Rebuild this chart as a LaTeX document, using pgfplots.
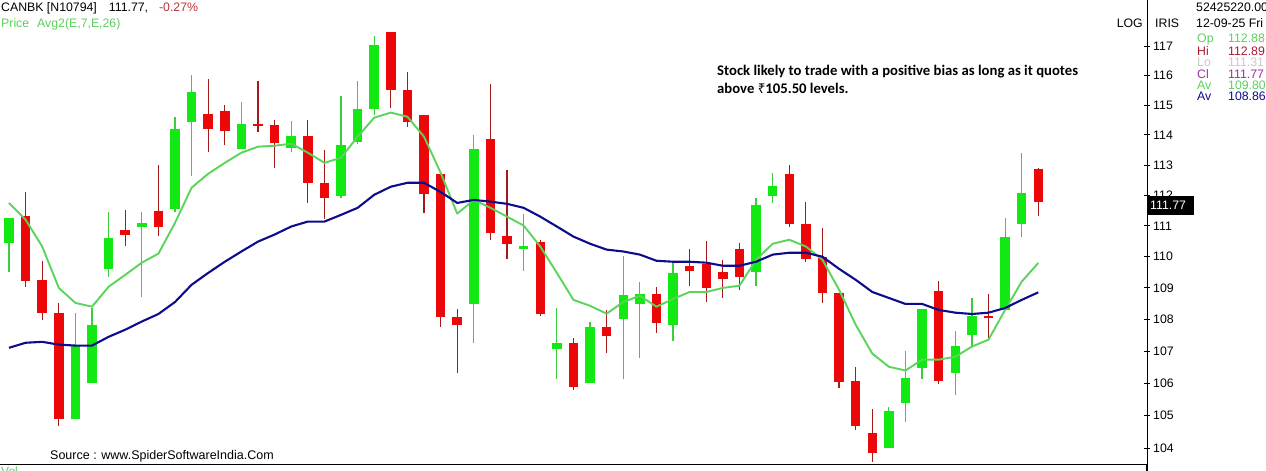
\documentclass[border=0pt]{standalone}
\usepackage{fontspec}
\setmainfont{Liberation Sans}
\newfontfamily\calibb{Carlito}[BoldFont={Carlito Bold}]
\newfontfamily\rupeefont{Noto Sans}
\usepackage{pgfplots}
\pgfplotsset{compat=1.18}
\definecolor{upgreen}{RGB}{18,232,18}
\definecolor{greenwick}{RGB}{60,205,60}
\definecolor{downred}{RGB}{236,8,8}
\definecolor{redwick}{RGB}{165,25,25}
\definecolor{emaseven}{RGB}{90,212,90}
\definecolor{ematwentysix}{RGB}{12,12,140}
\definecolor{pctred}{RGB}{190,50,50}
\definecolor{hired}{RGB}{175,25,50}
\definecolor{logrey}{RGB}{200,200,200}
\definecolor{clpurple}{RGB}{160,45,160}
\definecolor{txtgreen}{RGB}{95,205,95}
\begin{document}
\begin{tikzpicture}[x=1pt,y=1pt]
\useasboundingbox (0,0) rectangle (1266,471);
\begin{axis}[
  at={(0pt,6pt)}, anchor=south west,
  width=1147pt, height=465pt, scale only axis,
  xmin=-0.542, xmax=68.55,
  ymode=log, ymin=103.49, ymax=118.61,
  axis x line*=bottom, axis y line*=right,
  axis line style={line width=1.1pt, black},
  xtick=\empty,
  ytick={104,105,106,107,108,109,110,111,112,113,114,115,116,117},
  yticklabels={104,105,106,107,108,109,110,111,112,113,114,115,116,117},
  tick align=center, major tick length=6pt,
  tick style={black, line width=0.9pt},
  yticklabel style={font=\fontsize{12.3pt}{14pt}\selectfont, anchor=west, inner sep=0pt, xshift=3pt},
  unbounded coords=jump,
]
% green wicks
\addplot[greenwick, line width=1.2pt] coordinates {
(0,109.52)(0,111.27)(0,nan)
(4,104.90)(4,108.21)(4,nan)
(5,106.01)(5,108.36)(5,nan)
(6,109.36)(6,111.46)(6,nan)
(8,108.71)(8,111.46)(8,nan)
(10,111.46)(10,114.61)(10,nan)
(11,112.64)(11,116.03)(11,nan)
(14,113.54)(14,115.11)(14,nan)
(17,113.44)(17,114.48)(17,nan)
(20,111.92)(20,115.32)(20,nan)
(21,113.71)(21,115.83)(21,nan)
(22,114.68)(22,117.37)(22,nan)
(28,107.26)(28,114.01)(28,nan)
(31,109.55)(31,111.40)(31,nan)
(33,106.13)(33,108.36)(33,nan)
(35,106.01)(35,107.93)(35,nan)
(37,106.13)(37,110.03)(37,nan)
(38,106.79)(38,109.20)(38,nan)
(40,107.33)(40,109.81)(40,nan)
(45,109.07)(45,111.92)(45,nan)
(46,111.75)(46,112.74)(46,nan)
(53,104.01)(53,105.26)(53,nan)
(54,104.81)(54,107.01)(54,nan)
(55,106.13)(55,108.33)(55,nan)
(57,105.63)(57,107.64)(57,nan)
(58,107.17)(58,108.68)(58,nan)
(60,108.30)(60,111.27)(60,nan)
(61,110.65)(61,113.41)(61,nan)
};
% red wicks
\addplot[redwick, line width=1.2pt] coordinates {
(1,109.04)(1,112.11)(1,nan)
(2,107.99)(2,109.87)(2,nan)
(3,104.66)(3,108.52)(3,nan)
(7,110.36)(7,111.53)(7,nan)
(9,110.68)(9,113.01)(9,nan)
(12,113.44)(12,115.89)(12,nan)
(13,113.67)(13,115.01)(13,nan)
(15,114.11)(15,115.83)(15,nan)
(16,112.90)(16,114.51)(16,nan)
(18,111.75)(18,114.51)(18,nan)
(19,111.23)(19,113.51)(19,nan)
(23,114.91)(23,117.50)(23,nan)
(24,114.28)(24,116.13)(24,nan)
(25,111.43)(25,114.68)(25,nan)
(26,107.77)(26,112.71)(26,nan)
(27,106.32)(27,108.33)(27,nan)
(29,110.55)(29,115.72)(29,nan)
(30,109.94)(30,112.84)(30,nan)
(32,108.11)(32,110.55)(32,nan)
(34,105.79)(34,107.42)(34,nan)
(36,106.95)(36,108.30)(36,nan)
(39,107.58)(39,109.04)(39,nan)
(41,109.07)(41,110.26)(41,nan)
(42,108.56)(42,110.52)(42,nan)
(43,108.68)(43,109.90)(43,nan)
(44,108.94)(44,110.45)(44,nan)
(47,110.98)(47,113.01)(47,nan)
(48,109.84)(48,111.79)(48,nan)
(49,108.52)(49,110.94)(49,nan)
(50,105.85)(50,108.84)(50,nan)
(51,104.56)(51,106.51)(51,nan)
(52,103.57)(52,105.20)(52,nan)
(56,105.98)(56,109.23)(56,nan)
(59,107.39)(59,108.81)(59,nan)
(62,111.31)(62,112.89)(62,nan)
};
% green bodies (open, close)
\addplot[upgreen, line width=9.5pt] coordinates {
(0,110.45)(0,111.27)(0,nan)
(4,104.90)(4,107.20)(4,nan)
(5,106.01)(5,107.83)(5,nan)
(6,109.61)(6,110.62)(6,nan)
(8,110.98)(8,111.10)(8,nan)
(10,111.56)(10,114.21)(10,nan)
(11,114.44)(11,115.45)(11,nan)
(14,113.54)(14,114.38)(14,nan)
(17,113.57)(17,113.97)(17,nan)
(20,111.98)(20,113.67)(20,nan)
(21,113.77)(21,114.88)(21,nan)
(22,114.88)(22,117.06)(22,nan)
(28,108.49)(28,113.54)(28,nan)
(31,110.26)(31,110.33)(31,nan)
(33,107.07)(33,107.26)(33,nan)
(35,106.01)(35,107.77)(35,nan)
(37,108.02)(37,108.78)(37,nan)
(38,108.49)(38,108.81)(38,nan)
(40,107.83)(40,109.48)(40,nan)
(45,109.52)(45,111.69)(45,nan)
(46,111.98)(46,112.31)(46,nan)
(53,104.01)(53,105.14)(53,nan)
(54,105.39)(54,106.16)(54,nan)
(55,106.48)(55,108.33)(55,nan)
(57,106.32)(57,107.17)(57,nan)
(58,107.52)(58,108.11)(58,nan)
(60,108.30)(60,110.65)(60,nan)
(61,111.07)(61,112.08)(61,nan)
};
% red bodies (open, close)
\addplot[downred, line width=9.5pt] coordinates {
(1,111.33)(1,109.23)(1,nan)
(2,109.26)(2,108.21)(2,nan)
(3,108.21)(3,104.90)(3,nan)
(7,110.88)(7,110.72)(7,nan)
(9,111.50)(9,110.98)(9,nan)
(12,114.71)(12,114.21)(12,nan)
(13,114.81)(13,114.14)(13,nan)
(15,114.38)(15,114.31)(15,nan)
(16,114.34)(16,113.74)(16,nan)
(18,113.97)(18,112.41)(18,nan)
(19,112.41)(19,111.92)(19,nan)
(23,117.50)(23,115.52)(23,nan)
(24,115.52)(24,114.44)(24,nan)
(25,114.68)(25,112.05)(25,nan)
(26,112.71)(26,108.08)(26,nan)
(27,108.08)(27,107.83)(27,nan)
(29,113.87)(29,110.78)(29,nan)
(30,110.68)(30,110.42)(30,nan)
(32,110.49)(32,108.17)(32,nan)
(34,107.26)(34,105.88)(34,nan)
(36,107.77)(36,107.48)(36,nan)
(39,108.81)(39,107.89)(39,nan)
(41,109.71)(41,109.55)(41,nan)
(42,109.77)(42,109.00)(42,nan)
(43,109.52)(43,109.29)(43,nan)
(44,110.26)(44,109.36)(44,nan)
(47,112.71)(47,111.07)(47,nan)
(48,111.07)(48,109.94)(48,nan)
(49,110.00)(49,108.84)(49,nan)
(50,108.84)(50,106.04)(50,nan)
(51,106.07)(51,104.66)(51,nan)
(52,104.47)(52,103.85)(52,nan)
(56,108.90)(56,106.07)(56,nan)
(59,108.11)(59,108.05)(59,nan)
(62,112.88)(62,111.77)(62,nan)
};
% EMA 7
\addplot[emaseven, line width=1.9pt, line join=round] coordinates {
(0,111.75)(1,111.20)(2,110.33)(3,109.00)(4,108.52)(5,108.40)(6,109.04)(7,109.42)
(8,109.81)(9,110.10)(10,111.10)(11,112.25)(12,112.71)(13,113.07)(14,113.41)(15,113.61)
(16,113.64)(17,113.71)(18,113.41)(19,113.07)(20,113.24)(21,113.94)(22,114.58)(23,114.75)
(24,114.61)(25,113.94)(26,112.74)(27,111.40)(28,111.85)(29,111.59)(30,111.30)(31,111.01)
(32,110.33)(33,109.48)(34,108.62)(35,108.43)(36,108.18)(37,108.55)(38,108.75)(39,108.40)
(40,108.65)(41,108.87)(42,108.87)(43,109.00)(44,109.07)(45,109.90)(46,110.42)(47,110.55)
(48,110.33)(49,109.90)(50,108.94)(51,107.83)(52,106.92)(53,106.51)(54,106.39)(55,106.73)
(56,106.73)(57,106.82)(58,107.14)(59,107.36)(60,108.30)(61,109.20)(62,109.80)
};
% EMA 26
\addplot[ematwentysix, line width=2.1pt, line join=round] coordinates {
(0,107.10)(1,107.26)(2,107.29)(3,107.20)(4,107.17)(5,107.17)(6,107.45)(7,107.67)
(8,107.93)(9,108.17)(10,108.55)(11,109.10)(12,109.48)(13,109.84)(14,110.17)(15,110.49)
(16,110.72)(17,110.98)(18,111.14)(19,111.14)(20,111.36)(21,111.59)(22,112.02)(23,112.28)
(24,112.41)(25,112.41)(26,112.11)(27,111.75)(28,111.85)(29,111.79)(30,111.72)(31,111.59)
(32,111.30)(33,110.98)(34,110.65)(35,110.42)(36,110.23)(37,110.17)(38,110.07)(39,109.87)
(40,109.84)(41,109.84)(42,109.81)(43,109.71)(44,109.71)(45,109.84)(46,110.07)(47,110.13)
(48,110.13)(49,110.00)(50,109.61)(51,109.26)(52,108.87)(53,108.68)(54,108.49)(55,108.49)
(56,108.30)(57,108.21)(58,108.17)(59,108.21)(60,108.36)(61,108.62)(62,108.86)
};
\end{axis}
% right axis line continues below the bottom line
\draw[line width=1.1pt] (1147,0) -- (1147,6);
% last price box
\fill[black] (1148,471-215) rectangle (1194,471-196);
\node[anchor=base west, inner sep=0pt, text=white, font=\fontsize{12.3pt}{14pt}\selectfont] at (1150,471-210) {111.77};
% header texts
\node[anchor=base west, inner sep=0pt, font=\fontsize{12.3pt}{14pt}\selectfont] at (1,459) {CANBK [N10794]\hspace{12pt}111.77,\hspace{11pt}\textcolor{pctred}{-0.27\%}};
\node[anchor=base west, inner sep=0pt, text=txtgreen, font=\fontsize{12.3pt}{14pt}\selectfont] at (1,443) {Price\hspace{8pt}Avg2(E,7,E,26)};
\node[anchor=base east, inner sep=0pt, font=\fontsize{12.3pt}{14pt}\selectfont] at (1143,443) {LOG};
\node[anchor=base west, inner sep=0pt, font=\fontsize{12.3pt}{14pt}\selectfont] at (1155,443) {IRIS};
\node[anchor=base west, inner sep=0pt, font=\fontsize{12.3pt}{14pt}\selectfont] at (1196,459) {52425220.00};
\node[anchor=base west, inner sep=0pt, font=\fontsize{12.3pt}{14pt}\selectfont] at (1196,443) {12-09-25 Fri};
\begin{scope}[every node/.style={anchor=base west, inner sep=0pt, font=\fontsize{12.3pt}{14pt}\selectfont}]
\node[text=txtgreen] at (1197,428) {Op}; \node[text=txtgreen] at (1228,428) {112.88};
\node[text=hired] at (1197,415) {Hi}; \node[text=hired] at (1228,415) {112.89};
\node[text=logrey] at (1197,404) {Lo}; \node[text=logrey] at (1228,404) {111.31};
\node[text=clpurple] at (1197,392) {Cl}; \node[text=clpurple] at (1228,392) {111.77};
\node[text=txtgreen] at (1197,381) {Av}; \node[text=txtgreen] at (1228,381) {109.80};
\node[text=ematwentysix] at (1197,370) {Av}; \node[text=ematwentysix] at (1228,370) {108.86};
\end{scope}
% annotation
\node[anchor=base west, inner sep=0pt, font=\calibb\bfseries\fontsize{14.7pt}{18pt}\selectfont] at (717,395) {Stock likely to trade with a positive bias as long as it quotes};
\node[anchor=base west, inner sep=0pt, font=\calibb\bfseries\fontsize{14.7pt}{18pt}\selectfont] at (717,377) {above {\rupeefont\bfseries\fontsize{13.5pt}{18pt}\selectfont ₹}105.50 levels.};
% source
\node[anchor=base west, inner sep=0pt, font=\fontsize{12.5pt}{14pt}\selectfont] at (50,11) {Source : www.SpiderSoftwareIndia.Com};
\node[anchor=north west, inner sep=0pt, text=txtgreen, font=\fontsize{12pt}{14pt}\selectfont] at (1,4) {Vol};
\end{tikzpicture}
\end{document}
